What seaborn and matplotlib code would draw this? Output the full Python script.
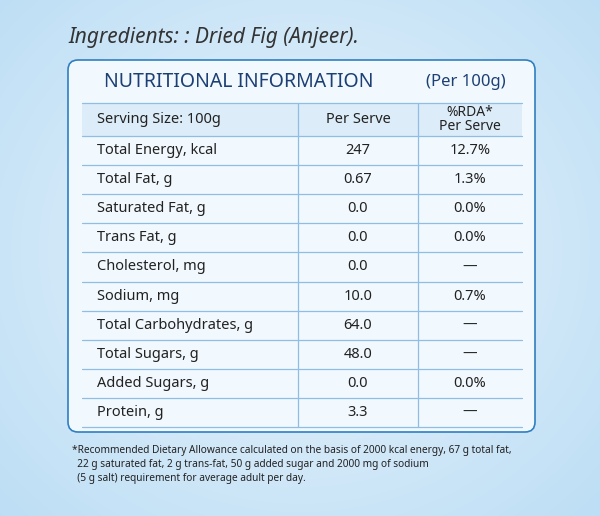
import numpy as np
import matplotlib
matplotlib.use("Agg")
import matplotlib.pyplot as plt
from matplotlib.patches import FancyBboxPatch, Rectangle
import seaborn as sns

sns.set_theme(style="white")
plt.rcParams['font.family'] = ['Noto Sans', 'DejaVu Sans']

title = "Ingredients: : Dried Fig (Anjeer)."
nutrients = ["Total Energy, kcal", "Total Fat, g", "Saturated Fat, g", "Trans Fat, g",
             "Cholesterol, mg", "Sodium, mg", "Total Carbohydrates, g", "Total Sugars, g",
             "Added Sugars, g", "Protein, g"]
per_serve = ["247", "0.67", "0.0", "0.0", "0.0", "10.0", "64.0", "48.0", "0.0", "3.3"]
rda = ["12.7%", "1.3%", "0.0%", "0.0%", "—", "0.7%", "—", "—", "0.0%", "—"]
footnote = ["*Recommended Dietary Allowance calculated on the basis of 2000 kcal energy, 67 g total fat,",
            "  22 g saturated fat, 2 g trans-fat, 50 g added sugar and 2000 mg of sodium",
            "  (5 g salt) requirement for average adult per day."]

fig = plt.figure(figsize=(6, 5.16), dpi=100)
ax = fig.add_axes([0, 0, 1, 1])
ax.set_xlim(0, 600); ax.set_ylim(516, 0); ax.axis('off')

yy, xx = np.mgrid[0:516, 0:600]
r = np.sqrt(((xx - 300) / 420) ** 2 + ((yy - 250) / 380) ** 2)
c0 = np.array([0.92, 0.96, 0.99]); c1 = np.array([0.74, 0.87, 0.96])
t = np.clip(r, 0, 1)[..., None]
ax.imshow(c0 * (1 - t) + c1 * t, extent=(0, 600, 516, 0), zorder=0, aspect='auto')

ax.text(68, 38, title, fontsize=15, style='italic', color='#333333', va='center')

box = FancyBboxPatch((68, 60), 467, 372, boxstyle="round,pad=0,rounding_size=10",
                     fc='#f2f9fe', ec='#2f7fc1', lw=1.2, zorder=1)
ax.add_patch(box)
navy = '#1c3f74'
ax.text(104, 82, "NUTRITIONAL INFORMATION", fontsize=14, fontweight='bold', color=navy, va='center')
ax.text(426, 82, "(Per 100g)", fontsize=12, fontweight='bold', color=navy, va='center')

left, right = 82, 522
c1x, c2x = 298, 418
top = 103
ax.add_patch(Rectangle((left, top), right - left, 33, fc='#dcedf9', ec='none', zorder=2))
ys = [top, 136] + [136 + 29.1 * (i + 1) for i in range(len(nutrients))]
for y in ys:
    ax.plot([left, right], [y, y], color='#8fbde3', lw=0.9, zorder=3)
for x in (c1x, c2x):
    ax.plot([x, x], [top, ys[-1]], color='#8fbde3', lw=0.9, zorder=3)

tc = '#222222'
ax.text(97, 119.5, "Serving Size: 100g", fontsize=10.5, color=tc, va='center', zorder=4)
ax.text((c1x + c2x) / 2, 119.5, "Per Serve", fontsize=10.5, color=tc, va='center', ha='center', zorder=4)
ax.text((c2x + right) / 2, 119.5, "%RDA*\nPer Serve", fontsize=10, color=tc, va='center',
        ha='center', linespacing=0.9, zorder=4)
for i, (n, p, d) in enumerate(zip(nutrients, per_serve, rda)):
    yc = (ys[i + 1] + ys[i + 2]) / 2
    ax.text(97, yc, n, fontsize=10.5, color=tc, va='center', zorder=4)
    ax.text((c1x + c2x) / 2, yc, p, fontsize=10.5, color=tc, va='center', ha='center', zorder=4)
    ax.text((c2x + right) / 2, yc, d, fontsize=10.5, color=tc, va='center', ha='center', zorder=4)

for i, line in enumerate(footnote):
    ax.text(72, 450 + i * 14, line, fontsize=7.3, color='#222222', va='center')

fig.savefig("out.png", dpi=100)
